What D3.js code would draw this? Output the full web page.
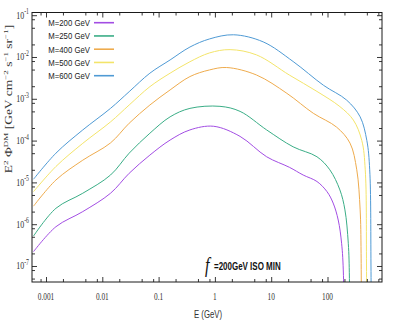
<!DOCTYPE html>
<html lang="en">
<head>
    <meta charset="UTF-8">
    <title>E2 flux DM</title>
    <script src="https://cdn.jsdelivr.net/npm/d3@7"></script>
    <style>
        body { margin: 0; background: #fff; }
        svg { display: block; }
    </style>
</head>
<body>
    <svg id="chart" width="395" height="327"></svg>
    <script>
        // values (E in GeV, flux in GeV cm^-2 s^-1 sr^-1)
        const masses = [200, 250, 400, 500, 600];
        const seriesLabels = ["M=200 GeV", "M=250 GeV", "M=400 GeV", "M=500 GeV", "M=600 GeV"];

        const energy200 = [6e-4, 1.5e-3, 4.5e-3, 0.014, 0.03, 0.07, 0.16, 0.36, 0.95, 2.8, 8.3, 21, 37, 65, 98, 126, 155, 178, 192, 200];
        const flux200   = [2.2e-7, 8.7e-7, 2.0e-6, 5.5e-6, 1.65e-5, 4.5e-5, 1.03e-4, 1.8e-4, 2.2e-4, 1.26e-4, 4.1e-5, 2.3e-5, 1.5e-5, 1.05e-5, 6e-6, 3.2e-6, 1.26e-6, 3.5e-7, 6e-8, 1e-12];

        const energy250 = [6e-4, 1.5e-3, 4.5e-3, 0.014, 0.03, 0.07, 0.16, 0.36, 1.23, 2.8, 8.3, 24.5, 65, 110, 166, 204, 234, 245, 250];
        const flux250   = [5.2e-7, 2.4e-6, 5.5e-6, 1.5e-5, 5.0e-5, 1.5e-4, 3.7e-4, 5.9e-4, 6.6e-4, 5.0e-4, 1.8e-4, 7.1e-5, 4.1e-5, 2.0e-5, 6.6e-6, 2.2e-6, 3.5e-7, 5e-8, 1e-12];

        const energy400 = [6e-4, 1.5e-3, 4.5e-3, 0.014, 0.03, 0.07, 0.16, 0.36, 0.8, 1.62, 5.5, 19, 56, 145, 251, 331, 380, 395, 400];
        const flux400   = [2.7e-6, 1.14e-5, 3.4e-5, 8.8e-5, 2.6e-4, 7.1e-4, 1.63e-3, 3.4e-3, 4.9e-3, 5.6e-3, 3.7e-3, 1.35e-3, 4.5e-4, 2.1e-4, 8.7e-5, 2.0e-5, 2.2e-6, 2e-7, 1e-12];

        const energy500 = [6e-4, 1.5e-3, 4.5e-3, 0.014, 0.03, 0.07, 0.16, 0.36, 0.8, 1.86, 5.5, 21, 65, 166, 288, 407, 468, 493, 500];
        const flux500   = [6.0e-6, 2.4e-5, 8.6e-5, 2.8e-4, 7.1e-4, 1.95e-3, 4.1e-3, 7.7e-3, 1.25e-2, 1.5e-2, 1.12e-2, 3.7e-3, 1.5e-3, 6.5e-4, 3.1e-4, 1.0e-4, 2.0e-5, 1e-7, 1e-12];

        const energy600 = [6e-4, 1.5e-3, 4.5e-3, 0.014, 0.03, 0.07, 0.16, 0.36, 0.8, 2.14, 7.2, 24.5, 85, 219, 380, 500, 562, 592, 600];
        const flux600   = [1.19e-5, 5.0e-5, 1.8e-4, 5.9e-4, 1.48e-3, 4.1e-3, 8.5e-3, 1.73e-2, 2.7e-2, 3.4e-2, 2.3e-2, 7.8e-3, 2.1e-3, 9.3e-4, 3.7e-4, 1.0e-4, 2.0e-5, 1e-7, 1e-12];

        const energies = [energy200, energy250, energy400, energy500, energy600];
        const fluxes = [flux200, flux250, flux400, flux500, flux600];

        const xTickValues = [0.001, 0.01, 0.1, 1, 10, 100];
        const xTickLabels = ["0.001", "0.01", "0.1", "1", "10", "100"];
        const yTickValues = [1e-7, 1e-6, 1e-5, 1e-4, 1e-3, 1e-2, 1e-1];
        const yTickExponents = ["-7", "-6", "-5", "-4", "-3", "-2", "-1"];

        const colors = ["#a24de3", "#3aad86", "#eeab4d", "#f3e46a", "#4f9ad4"];

        const width = 395, height = 327;
        const margin = { left: 32, right: 13, top: 12.5, bottom: 45 };
        const serif = "'Liberation Serif', 'DejaVu Serif', serif";
        const sans = "'Liberation Sans', Arial, sans-serif";

        const svg = d3.select("#chart");

        const x = d3.scaleLog()
            .domain([5.64e-4, 929])
            .range([margin.left, width - margin.right]);
        const y = d3.scaleLog()
            .domain([4.14e-8, 0.116])
            .range([height - margin.bottom, margin.top]);

        // minor ticks at 2, 5, 8 of every decade
        function minorTicks(scale) {
            const [a, b] = scale.domain();
            const out = [];
            for (let e = Math.floor(Math.log10(a)) - 1; e <= Math.ceil(Math.log10(b)); e++) {
                [2, 5, 8].forEach(m => {
                    const v = m * Math.pow(10, e);
                    if (v > a && v < b) out.push(v);
                });
            }
            return out;
        }

        svg.append("defs").append("clipPath").attr("id", "plot-clip")
            .append("rect")
            .attr("x", margin.left).attr("y", margin.top)
            .attr("width", width - margin.left - margin.right)
            .attr("height", height - margin.top - margin.bottom);

        // curves
        const line = d3.line()
            .x(d => x(d[0]))
            .y(d => y(d[1]))
            .curve(d3.curveCatmullRom.alpha(0.5));

        svg.append("g")
            .attr("clip-path", "url(#plot-clip)")
            .selectAll("path")
            .data(masses)
            .join("path")
            .attr("fill", "none")
            .attr("stroke", (d, i) => colors[i])
            .attr("stroke-width", 1)
            .attr("d", (d, i) => line(energies[i].map((e, j) => [e, fluxes[i][j]])));

        // ticks on all four sides, pointing inward
        const bottom = height - margin.bottom, right = width - margin.right;
        function tickAxis(axisFn, scale, values, size, transform) {
            svg.append("g")
                .attr("transform", transform)
                .call(axisFn(scale).tickValues(values).tickSize(size).tickFormat(""))
                .call(g => g.select(".domain").remove())
                .call(g => g.selectAll(".tick line").attr("stroke", "#222").attr("stroke-width", 0.9));
        }
        tickAxis(d3.axisBottom, x, xTickValues, -5, `translate(0,${bottom})`);
        tickAxis(d3.axisBottom, x, minorTicks(x), -3, `translate(0,${bottom})`);
        tickAxis(d3.axisTop, x, xTickValues, -5, `translate(0,${margin.top})`);
        tickAxis(d3.axisTop, x, minorTicks(x), -3, `translate(0,${margin.top})`);
        tickAxis(d3.axisLeft, y, yTickValues, -5, `translate(${margin.left},0)`);
        tickAxis(d3.axisLeft, y, minorTicks(y), -3, `translate(${margin.left},0)`);
        tickAxis(d3.axisRight, y, yTickValues, -5, `translate(${right},0)`);
        tickAxis(d3.axisRight, y, minorTicks(y), -3, `translate(${right},0)`);

        // frame
        svg.append("rect")
            .attr("x", margin.left).attr("y", margin.top)
            .attr("width", right - margin.left)
            .attr("height", bottom - margin.top)
            .attr("fill", "none")
            .attr("stroke", "#1a1a1a")
            .attr("stroke-width", 1);

        // squeezed text helper (the original figure was narrowed horizontally)
        function label(px, py, sx) {
            return svg.append("text").attr("transform", `translate(${px},${py}) scale(${sx},1)`);
        }

        xTickValues.forEach((v, i) => {
            label(x(v), 300, 0.7)
                .attr("text-anchor", "middle")
                .attr("font-family", serif)
                .attr("font-size", 10.5)
                .attr("fill", "#333")
                .text(xTickLabels[i]);
        });

        yTickValues.forEach((v, i) => {
            const t = label(29, y(v) + 3.5, 0.72)
                .attr("text-anchor", "end")
                .attr("font-family", serif)
                .attr("font-size", 11)
                .attr("fill", "#333");
            t.append("tspan").text("10");
            t.append("tspan").attr("dy", -4.5).attr("font-size", 8).text(yTickExponents[i]);
        });

        // axis titles
        label(208, 318, 0.78)
            .attr("text-anchor", "middle")
            .attr("font-family", sans)
            .attr("font-size", 10)
            .attr("fill", "#333")
            .text("E (GeV)");

        const yt = svg.append("text")
            .attr("transform", "translate(12,99) scale(0.72,1) rotate(-90)")
            .attr("text-anchor", "middle")
            .attr("font-family", serif)
            .attr("font-size", 13.5)
            .attr("fill", "#333");
        yt.append("tspan").text("E");
        yt.append("tspan").attr("dy", -5).attr("font-size", 9).text("2");
        yt.append("tspan").attr("dy", 5).text(" Φ");
        yt.append("tspan").attr("dy", -5).attr("font-size", 9).text("DM");
        yt.append("tspan").attr("dy", 5).text(" [GeV cm");
        yt.append("tspan").attr("dy", -5).attr("font-size", 9).text("−2");
        yt.append("tspan").attr("dy", 5).text(" s");
        yt.append("tspan").attr("dy", -5).attr("font-size", 9).text("−1");
        yt.append("tspan").attr("dy", 5).text(" sr");
        yt.append("tspan").attr("dy", -5).attr("font-size", 9).text("−1");
        yt.append("tspan").attr("dy", 5).text("]");

        // legend
        const legendY = d3.scalePoint().domain(masses).range([22.7, 75.7]);
        masses.forEach((m, i) => {
            label(90, legendY(m) + 3.3, 0.82)
                .attr("text-anchor", "end")
                .attr("font-family", sans)
                .attr("font-size", 9.5)
                .attr("fill", "#222")
                .text(seriesLabels[i]);
            svg.append("line")
                .attr("x1", 94).attr("x2", 114)
                .attr("y1", legendY(m)).attr("y2", legendY(m))
                .attr("stroke", colors[i])
                .attr("stroke-width", 1.6);
        });

        // annotation
        label(205, 272, 0.8)
            .attr("font-family", serif)
            .attr("font-style", "italic")
            .attr("font-size", 20)
            .attr("fill", "#111")
            .text("f");
        label(214, 270, 0.76)
            .attr("font-family", sans)
            .attr("font-weight", "bold")
            .attr("font-size", 10.5)
            .attr("fill", "#111")
            .text("=200GeV ISO MIN");
    </script>
</body>
</html>
